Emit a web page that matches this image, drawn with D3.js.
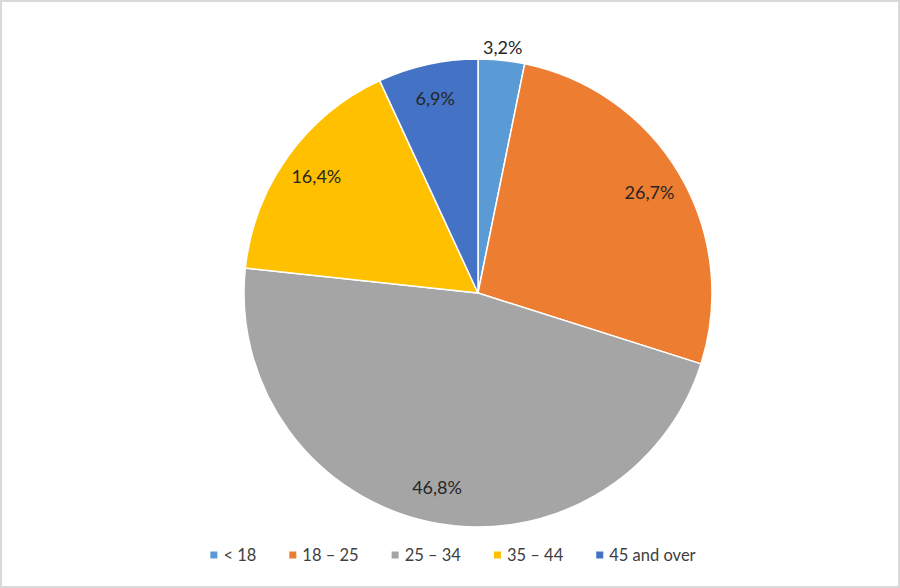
<!DOCTYPE html>
<html>
<head>
<meta charset="utf-8">
<script src="https://cdn.jsdelivr.net/npm/d3@7"></script>
<style>
  html, body { margin: 0; padding: 0; background: #fff; }
  svg { display: block; }
  .label { font-family: Lato, "DejaVu Sans", sans-serif; font-size: 18px; fill: #262626; }
  .legend text { font-family: Lato, "DejaVu Sans", sans-serif; font-size: 16.5px; fill: #404040; }
</style>
</head>
<body>
<svg id="chart"></svg>
<script>
// data
const categories = ["< 18", "18 \u2013 25", "25 \u2013 34", "35 \u2013 44", "45 and over"];
const shares = [3.2, 26.7, 46.8, 16.4, 6.9];
const labels = ["3,2%", "26,7%", "46,8%", "16,4%", "6,9%"];
const colors = ["#5B9BD5", "#ED7D31", "#A5A5A5", "#FFC000", "#4472C4"];

const width = 900, height = 588;
const cx = 478, cy = 293, radius = 234;

const svg = d3.select("#chart")
    .attr("width", width)
    .attr("height", height);

// border round the chart area
svg.append("rect")
    .attr("x", 1).attr("y", 1)
    .attr("width", width - 2).attr("height", height - 2)
    .attr("fill", "#fff")
    .attr("stroke", "#d9d9d9")
    .attr("stroke-width", 2);

const rows = categories.map((c, i) => ({ cat: c, value: shares[i], label: labels[i], color: colors[i] }));

const pie = d3.pie()
    .sort(null)
    .value(d => d.value);

const arc = d3.arc().innerRadius(0).outerRadius(radius);
const labelArc = d3.arc().innerRadius(radius * 0.85).outerRadius(radius * 0.85);
const outerArc = d3.arc().innerRadius(radius + 13).outerRadius(radius + 13);

const g = svg.append("g")
    .attr("transform", `translate(${cx},${cy})`);

const slices = pie(rows);

g.selectAll("path")
    .data(slices)
    .join("path")
    .attr("d", arc)
    .attr("fill", d => d.data.color)
    .attr("stroke", "#fff")
    .attr("stroke-width", 1.5)
    .attr("stroke-linejoin", "round");

// small slices get their label outside
g.selectAll("text.label")
    .data(slices)
    .join("text")
    .attr("class", "label")
    .attr("transform", d => {
        let p = d.data.value < 5 ? outerArc.centroid(d) : labelArc.centroid(d);
        return `translate(${p[0]},${p[1]})`;
    })
    .attr("text-anchor", "middle")
    .attr("dy", "0.35em")
    .text(d => d.data.label);

// legend along the bottom
const legend = svg.append("g").attr("class", "legend");

const items = legend.selectAll("g")
    .data(rows)
    .join("g");

items.append("rect")
    .attr("width", 7)
    .attr("height", 7)
    .attr("y", -3.5)
    .attr("fill", d => d.color);

items.append("text")
    .attr("x", 13)
    .attr("dy", "0.35em")
    .text(d => d.cat);

let x = 0;
const gap = 33;
items.each(function () {
    const w = 13 + d3.select(this).select("text").node().getComputedTextLength();
    d3.select(this).attr("transform", `translate(${x},0)`);
    x += w + gap;
});
const total = x - gap;
legend.attr("transform", `translate(${453 - total / 2},555)`);
</script>
</body>
</html>
